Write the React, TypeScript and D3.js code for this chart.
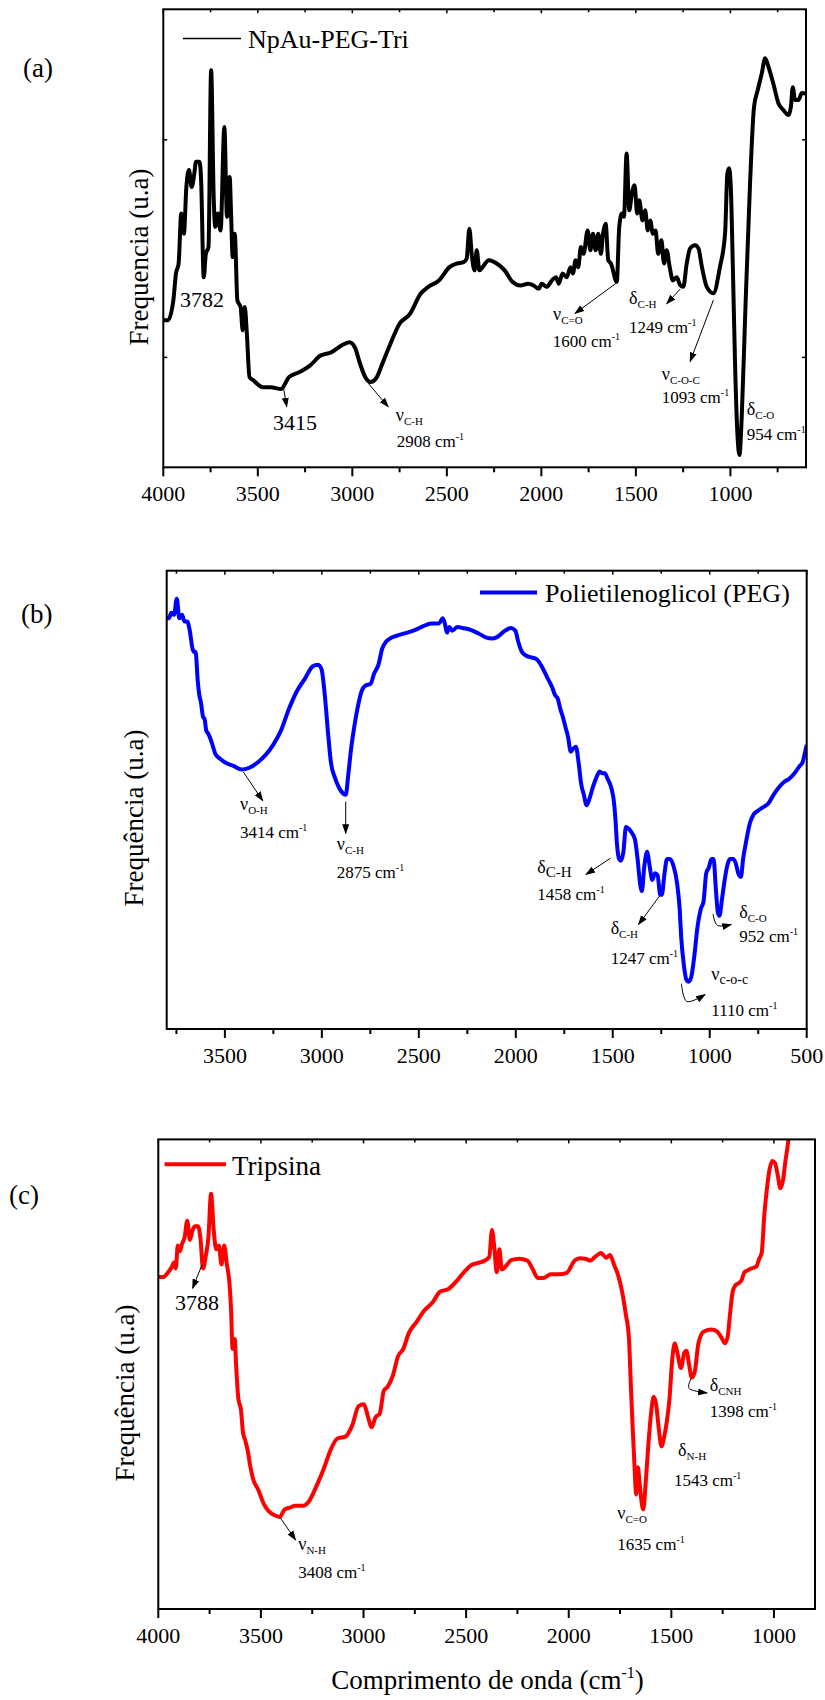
import React from 'react';
import * as d3 from 'd3';

const FONT = '"Liberation Serif", "Times New Roman", "DejaVu Serif", serif';

type Pt = [number, number];

// ---------- DATA (wavenumber cm-1, intensity u.a. 0-100) ----------
const npauSpectrum: Pt[] = [
  [4000,32.1],[3975,32.1],[3947,36.4],[3933,42.3],[3919,44.5],[3905,55.4],[3891,51.0],[3878,61.2],[3864,64.9],[3850,61.2],
  [3836,64.1],[3827,66.7],[3808,66.7],[3800,62.7],[3786,41.5],[3775,46.6],[3761,48.1],[3747,86.7],[3733,58.3],[3725,52.5],
  [3711,55.4],[3697,51.7],[3677,74.3],[3663,54.7],[3649,63.4],[3641,54.7],[3633,45.9],[3622,51.0],[3608,36.4],[3591,35.0],
  [3580,29.9],[3569,35.0],[3558,29.2],[3544,19.7],[3524,19.0],[3474,17.5],[3432,17.5],[3377,17.1],[3335,19.7],[3279,20.8],
  [3224,22.2],[3168,24.4],[3112,25.1],[3057,26.6],[3015,27.3],[2987,26.2],[2959,22.6],[2932,19.7],[2904,18.6],[2870,19.7],
  [2848,21.9],[2806,26.2],[2751,31.3],[2695,33.5],[2639,37.9],[2598,39.4],[2542,40.8],[2486,43.7],[2445,44.5],[2411,44.8],
  [2395,45.6],[2381,52.1],[2367,45.9],[2353,43.0],[2342,47.4],[2328,43.0],[2311,43.7],[2278,45.2],[2236,44.5],[2194,43.0],
  [2153,40.5],[2111,39.7],[2069,40.1],[2041,39.7],[2013,39.0],[1999,40.1],[1972,39.4],[1944,40.8],[1922,41.5],[1908,40.1],
  [1888,42.3],[1866,41.5],[1846,43.7],[1833,42.3],[1819,45.2],[1805,43.7],[1791,48.1],[1777,46.6],[1755,51.7],[1741,47.4],
  [1727,51.0],[1713,47.4],[1699,51.0],[1685,46.6],[1674,51.0],[1660,53.2],[1646,45.2],[1632,44.5],[1601,40.5],[1588,52.5],
  [1574,55.4],[1563,54.7],[1549,68.5],[1535,56.1],[1521,59.8],[1507,61.6],[1493,55.4],[1482,58.3],[1465,53.9],[1451,56.1],
  [1437,51.7],[1424,53.9],[1410,51.0],[1396,51.7],[1382,46.6],[1365,49.6],[1351,44.5],[1337,47.4],[1321,43.7],[1304,40.8],
  [1284,41.5],[1266,39.8],[1249,39.4],[1231,44.5],[1213,47.8],[1187,48.5],[1169,47.8],[1151,43.8],[1125,39.4],[1090,38.0],
  [1055,43.8],[1028,51.1],[1016,64.2],[1007,65.3],[998,61.3],[987,43.8],[975,22.0],[963,7.4],[952,2.7],[940,11.0],
  [922,32.9],[896,62.0],[875,78.7],[855,82.4],[834,86.0],[816,89.3],[799,87.5],[773,83.8],[746,79.5],[720,78.0],
  [693,76.9],[680,78.7],[670,83.0],[658,80.2],[640,80.2],[622,81.7],[600,81.6],
];

const pegSpectrum: Pt[] = [
  [3800,90.0],[3789,89.6],[3776,90.8],[3762,90.4],[3748,93.9],[3735,89.6],[3721,90.4],[3708,88.9],[3694,88.9],[3681,86.9],
  [3667,83.0],[3659,82.3],[3651,82.3],[3640,76.0],[3632,72.9],[3624,71.4],[3613,68.2],[3604,67.5],[3596,65.1],[3585,64.4],
  [3577,63.6],[3564,62.0],[3550,60.1],[3523,58.9],[3496,58.1],[3455,57.4],[3414,56.6],[3374,57.0],[3333,58.1],[3292,59.7],
  [3251,62.0],[3211,65.1],[3170,69.8],[3129,73.7],[3088,76.4],[3048,79.1],[3020,79.5],[3001,78.4],[2985,72.9],[2966,63.6],
  [2953,58.1],[2934,55.0],[2912,52.7],[2893,51.5],[2877,51.1],[2863,55.8],[2849,61.2],[2836,65.1],[2817,69.8],[2795,73.7],
  [2776,74.9],[2749,75.3],[2730,77.6],[2708,79.5],[2689,83.0],[2667,84.6],[2640,85.4],[2600,86.0],[2559,86.5],[2518,87.1],
  [2477,87.9],[2437,88.5],[2396,88.5],[2377,89.6],[2366,88.5],[2355,86.5],[2342,87.7],[2328,86.9],[2301,87.7],[2274,87.5],
  [2233,87.1],[2192,86.3],[2151,85.4],[2124,85.2],[2097,85.5],[2056,86.9],[2024,87.5],[2002,86.9],[1988,84.6],[1969,82.3],
  [1948,81.5],[1921,81.1],[1893,80.7],[1866,79.1],[1839,76.8],[1812,74.5],[1798,72.9],[1784,72.1],[1770,69.8],[1758,68.2],
  [1744,65.9],[1730,63.6],[1717,60.5],[1703,61.2],[1690,61.6],[1676,58.1],[1663,53.5],[1649,51.1],[1635,48.8],[1622,50.0],
  [1603,52.7],[1584,54.9],[1567,56.2],[1554,55.8],[1540,55.8],[1527,54.6],[1508,52.7],[1494,49.6],[1486,45.7],[1478,40.2],
  [1467,37.1],[1459,36.7],[1445,38.7],[1432,44.1],[1418,43.7],[1405,43.0],[1386,41.4],[1372,37.1],[1359,31.7],[1350,30.1],
  [1337,35.6],[1323,38.7],[1310,35.6],[1296,32.5],[1282,34.0],[1269,33.6],[1255,29.3],[1247,29.3],[1233,34.0],[1220,37.1],
  [1206,37.1],[1187,35.6],[1168,31.7],[1155,26.2],[1147,20.0],[1133,13.8],[1120,10.7],[1109,10.3],[1095,11.4],[1079,16.1],
  [1063,22.3],[1046,26.2],[1032,27.8],[1018,34.0],[1005,35.2],[991,37.1],[980,37.1],[969,30.9],[958,25.4],[950,24.7],
  [936,28.6],[923,32.5],[910,35.6],[896,37.1],[880,37.1],[867,36.3],[853,34.0],[839,33.2],[828,37.1],[812,41.0],
  [793,44.9],[774,46.8],[752,47.6],[725,48.4],[698,49.2],[671,51.1],[644,52.7],[617,53.9],[590,54.6],[563,55.8],
  [536,57.4],[522,58.1],[508,60.5],[500,62.0],
];

const tripsinaSpectrum: Pt[] = [
  [4000,70.7],[3974,70.7],[3954,71.6],[3936,72.7],[3923,73.8],[3915,72.5],[3905,77.4],[3895,76.2],[3884,77.8],[3872,79.1],
  [3859,82.7],[3846,78.6],[3833,80.7],[3820,81.5],[3807,81.5],[3795,79.1],[3782,72.5],[3769,75.1],[3756,79.1],[3743,88.4],
  [3730,80.7],[3718,76.6],[3705,77.4],[3692,73.4],[3679,77.4],[3666,73.4],[3653,69.3],[3646,64.4],[3638,55.4],[3628,57.5],
  [3620,51.3],[3610,44.8],[3597,42.4],[3587,37.5],[3576,35.9],[3563,33.4],[3551,30.2],[3538,27.7],[3512,25.3],[3486,22.4],
  [3461,20.8],[3435,20.0],[3409,19.6],[3384,21.2],[3358,21.6],[3332,22.0],[3294,22.0],[3268,22.8],[3230,26.1],[3191,30.2],
  [3165,33.4],[3127,36.3],[3088,36.7],[3055,39.1],[3024,43.2],[2998,43.6],[2980,41.2],[2960,38.7],[2942,40.8],[2921,41.6],
  [2901,46.5],[2883,47.3],[2857,49.7],[2832,53.8],[2806,55.4],[2780,58.7],[2742,61.1],[2703,63.6],[2665,65.2],[2626,67.6],
  [2588,68.1],[2549,69.7],[2511,71.7],[2472,73.3],[2433,73.8],[2408,74.2],[2387,75.0],[2374,80.7],[2362,76.6],[2351,71.7],
  [2338,76.6],[2326,72.3],[2305,73.1],[2280,74.3],[2241,74.6],[2202,74.2],[2177,72.5],[2151,70.5],[2125,70.5],[2087,71.3],
  [2048,71.3],[2010,71.6],[1971,74.2],[1946,74.7],[1920,74.6],[1894,74.2],[1869,75.1],[1843,75.8],[1817,74.8],[1799,75.4],
  [1779,73.3],[1761,71.3],[1740,67.6],[1722,62.8],[1707,57.9],[1697,47.3],[1689,39.1],[1681,31.8],[1671,24.4],[1663,30.2],
  [1655,26.9],[1645,22.8],[1637,21.2],[1625,26.9],[1612,35.0],[1599,41.6],[1586,45.2],[1573,43.2],[1561,38.3],[1548,34.6],
  [1535,36.7],[1522,39.9],[1509,44.8],[1496,53.0],[1483,56.6],[1471,54.6],[1453,51.3],[1437,54.6],[1427,55.0],[1414,52.2],
  [1401,49.3],[1386,50.5],[1368,56.6],[1342,59.1],[1304,59.5],[1278,59.1],[1257,57.9],[1239,56.6],[1226,57.9],[1214,62.8],
  [1201,67.6],[1188,68.9],[1175,69.3],[1157,70.1],[1144,71.7],[1129,72.1],[1111,72.5],[1085,73.0],[1072,74.6],[1060,75.8],
  [1047,83.9],[1034,89.6],[1021,93.7],[1008,95.4],[995,95.0],[982,92.5],[969,89.6],[956,91.3],[944,95.4],[931,99.4],[915,106],
];

const labelTicksA = [4000, 3500, 3000, 2500, 2000, 1500, 1000];
const minorTicksA = [3750, 3250, 2750, 2250, 1750, 1250, 750];
const labelTicksB = [3500, 3000, 2500, 2000, 1500, 1000, 500];
const minorTicksB = [3750, 3250, 2750, 2250, 1750, 1250, 750];
const labelTicksC = [4000, 3500, 3000, 2500, 2000, 1500, 1000];
const minorTicksC = [3750, 3250, 2750, 2250, 1750, 1250];
const yTicksA = [24, 71.5];

interface Label { at: Pt; sym?: string; sub?: string; subSize?: number; num?: string; big?: string; }
interface Arrow { pts: Pt[]; }

const labelsA: Label[] = [
  { at: [3795, 35.0], big: '3782' },
  { at: [3303, 8.1], big: '3415' },
  { at: [2770, 10.2], sym: 'ν', sub: 'C-H' },
  { at: [2765, 4.5], num: '2908' },
  { at: [1938, 32.2], sym: 'ν', sub: 'C=O' },
  { at: [1940, 26.3], num: '1600' },
  { at: [1536, 35.7], sym: 'δ', sub: 'C-H' },
  { at: [1536, 29.3], num: '1249' },
  { at: [1363, 19.1], sym: 'ν', sub: 'C-O-C' },
  { at: [1363, 14.0], num: '1093' },
  { at: [913, 11.4], sym: 'δ', sub: 'C-O' },
  { at: [913, 6.0], num: '954' },
];
const arrowsA: Arrow[] = [
  { pts: [[3365, 17.6], [3347, 13.2]] },
  { pts: [[2915, 18.3], [2810, 13.2]] },
  { pts: [[1601, 40.3], [1822, 33.6]] },
  { pts: [[1266, 38.9], [1337, 35.7]] },
  { pts: [[1090, 36.5], [1213, 23.1]] },
];

const labelsB: Label[] = [
  { at: [3422, 47.8], sym: 'ν', sub: 'O-H' },
  { at: [3422, 41.6], num: '3414' },
  { at: [2923, 39.1], sym: 'ν', sub: 'C-H' },
  { at: [2923, 32.9], num: '2875' },
  { at: [1889, 34.1], sym: 'δ', sub: 'C-H', subSize: 15 },
  { at: [1889, 28.2], num: '1458' },
  { at: [1511, 20.8], sym: 'δ', sub: 'C-H' },
  { at: [1511, 14.2], num: '1247' },
  { at: [992, 10.7], sym: 'ν', sub: 'c-o-c', subSize: 14 },
  { at: [992, 2.9], num: '1110' },
  { at: [848, 24.3], sym: 'δ', sub: 'C-O' },
  { at: [848, 18.9], num: '952' },
];
const arrowsB: Arrow[] = [
  { pts: [[3405, 56.1], [3305, 49.8]] },
  { pts: [[2877, 49.6], [2877, 42.7]] },
  { pts: [[1511, 37.3], [1638, 33.7]] },
  { pts: [[1259, 29.0], [1367, 22.8]] },
  { pts: [[1146, 9.9], [1118, 6.0], [1024, 7.5]] },
  { pts: [[983, 25.1], [960, 22.6], [889, 22.8]] },
];

const labelsC: Label[] = [
  { at: [3812, 63.7], big: '3788' },
  { at: [3318, 12.6], sym: 'ν', sub: 'N-H' },
  { at: [3318, 6.5], num: '3408' },
  { at: [1763, 19.2], sym: 'ν', sub: 'C=O' },
  { at: [1763, 12.6], num: '1635' },
  { at: [1467, 32.6], sym: 'δ', sub: 'N-H' },
  { at: [1487, 26.1], num: '1543' },
  { at: [1313, 46.5], sym: 'δ', sub: 'CNH' },
  { at: [1313, 40.8], num: '1398' },
];
const arrowsC: Arrow[] = [
  { pts: [[3787, 73.3], [3833, 68.3]] },
  { pts: [[3408, 19.6], [3331, 14.7]] },
  { pts: [[1403, 49.1], [1412, 46.9], [1326, 46.0]] },
];

// ---------- LAYOUT ----------
interface Box { x0: number; x1: number; y0: number; y1: number; }

interface PanelProps {
  id: string;
  box: Box;
  domain: [number, number];
  data: Pt[];
  color: string;
  labelTicks: number[];
  minorTicks: number[];
  yTicks: number[];
  labels: Label[];
  arrows: Arrow[];
  tag: string;
  tagPos: [number, number];
  yTitle: string;
  yTitlePos: [number, number];
  legend: { text: string; lx1: number; lx2: number; ly: number; tx: number; ty: number; lw: number; size: number };
}

function Panel(p: PanelProps) {
  const { box } = p;
  const x = d3.scaleLinear().domain(p.domain).range([box.x0, box.x1]);
  const y = d3.scaleLinear().domain([0, 100]).range([box.y1, box.y0]);
  const line = d3.line<Pt>().x(d => x(d[0])).y(d => y(d[1])).curve(d3.curveMonotoneX);
  const arrowLine = d3.line<Pt>().x(d => x(d[0])).y(d => y(d[1])).curve(d3.curveCardinal);
  const clipId = `clip-${p.id}`;
  return (
    <g>
      <defs>
        <clipPath id={clipId}>
          <rect x={box.x0} y={box.y0} width={box.x1 - box.x0} height={box.y1 - box.y0} />
        </clipPath>
      </defs>
      <path d={line(p.data) || ''} fill="none" stroke={p.color} strokeWidth={4}
        strokeLinejoin="round" clipPath={`url(#${clipId})`} />
      <rect x={box.x0} y={box.y0} width={box.x1 - box.x0} height={box.y1 - box.y0}
        fill="none" stroke="#000" strokeWidth={2} />
      {p.labelTicks.map(t => (
        <g key={`mt${t}`}>
          <line x1={x(t)} x2={x(t)} y1={box.y1} y2={box.y1 + 9} stroke="#000" strokeWidth={2} />
          <line x1={x(t)} x2={x(t)} y1={box.y0} y2={box.y0 + 4} stroke="#000" strokeWidth={1.5} />
          <text x={x(t)} y={box.y1 + 34} textAnchor="middle" fontSize={22} style={{ fontFamily: FONT }}>{t}</text>
        </g>
      ))}
      {p.minorTicks.map(t => (
        <g key={`nt${t}`}>
          <line x1={x(t)} x2={x(t)} y1={box.y1} y2={box.y1 + 5} stroke="#000" strokeWidth={2} />
          <line x1={x(t)} x2={x(t)} y1={box.y0} y2={box.y0 + 3} stroke="#000" strokeWidth={1.5} />
        </g>
      ))}
      {p.yTicks.map(t => (
        <g key={`yt${t}`}>
          <line x1={box.x0} x2={box.x0 + 4} y1={y(t)} y2={y(t)} stroke="#000" strokeWidth={1.5} />
          <line x1={box.x1 - 4} x2={box.x1} y1={y(t)} y2={y(t)} stroke="#000" strokeWidth={1.5} />
        </g>
      ))}
      {p.arrows.map((a, i) => (
        <path key={`ar${i}`} d={(a.pts.length > 2 ? arrowLine(a.pts) : d3.line()(a.pts.map(q => [x(q[0]), y(q[1])] as [number, number]))) || ''}
          fill="none" stroke="#000" strokeWidth={1} markerEnd="url(#arrowHead)" />
      ))}
      {p.labels.map((l, i) => {
        const px = x(l.at[0]);
        const py = y(l.at[1]);
        if (l.big) {
          return <text key={`lb${i}`} x={px} y={py} textAnchor="middle" fontSize={22} style={{ fontFamily: FONT }}>{l.big}</text>;
        }
        if (l.sym) {
          return (
            <text key={`lb${i}`} x={px} y={py} fontSize={18} style={{ fontFamily: FONT }}>
              {l.sym}<tspan fontSize={l.subSize || 11} dy={4}>{l.sub}</tspan>
            </text>
          );
        }
        return (
          <text key={`lb${i}`} x={px} y={py} fontSize={17} style={{ fontFamily: FONT }}>
            {l.num} cm<tspan fontSize={10} dy={-7}>-1</tspan>
          </text>
        );
      })}
      <line x1={p.legend.lx1} x2={p.legend.lx2} y1={p.legend.ly} y2={p.legend.ly}
        stroke={p.color} strokeWidth={p.legend.lw} />
      <text x={p.legend.tx} y={p.legend.ty} fontSize={p.legend.size} style={{ fontFamily: FONT }}>{p.legend.text}</text>
      <text x={p.tagPos[0]} y={p.tagPos[1]} fontSize={27} style={{ fontFamily: FONT }}>{p.tag}</text>
      <text transform={`translate(${p.yTitlePos[0]},${p.yTitlePos[1]}) rotate(-90)`} textAnchor="middle"
        fontSize={27} style={{ fontFamily: FONT }}>{p.yTitle}</text>
    </g>
  );
}

export default function App() {
  return (
    <svg width={825} height={1700} viewBox="0 0 825 1700"
      style={{ position: 'absolute', left: 0, top: 0, background: '#fff', fontFamily: FONT }}>
      <defs>
        <marker id="arrowHead" viewBox="0 0 10 10" refX={9} refY={5} markerWidth={10} markerHeight={10}
          markerUnits="userSpaceOnUse" orient="auto">
          <path d="M0,1.5 L10,5 L0,8.5 z" fill="#000" />
        </marker>
      </defs>
      <rect x={0} y={0} width={825} height={1700} fill="#fff" />
      <Panel id="a" box={{ x0: 163.3, x1: 806, y0: 9.3, y1: 467.3 }} domain={[4000, 600]}
        data={npauSpectrum} color="#000000" labelTicks={labelTicksA} minorTicks={minorTicksA} yTicks={yTicksA}
        labels={labelsA} arrows={arrowsA} tag="(a)" tagPos={[23, 77]}
        yTitle="Frequencia (u.a)" yTitlePos={[148, 257]}
        legend={{ text: 'NpAu-PEG-Tri', lx1: 183, lx2: 241, ly: 38.5, tx: 248, ty: 47.5, lw: 1.5, size: 26 }} />
      <Panel id="b" box={{ x0: 166.7, x1: 806.7, y0: 570.7, y1: 1029 }} domain={[3800, 500]}
        data={pegSpectrum} color="#0000FF" labelTicks={labelTicksB} minorTicks={minorTicksB} yTicks={[]}
        labels={labelsB} arrows={arrowsB} tag="(b)" tagPos={[21, 623]}
        yTitle="Frequência (u.a)" yTitlePos={[143, 818]}
        legend={{ text: 'Polietilenoglicol (PEG)', lx1: 480, lx2: 537, ly: 592.5, tx: 545, ty: 602, lw: 4, size: 26 }} />
      <Panel id="c" box={{ x0: 158.3, x1: 815, y0: 1139.4, y1: 1609 }} domain={[4000, 800]}
        data={tripsinaSpectrum} color="#FF0000" labelTicks={labelTicksC} minorTicks={minorTicksC} yTicks={[]}
        labels={labelsC} arrows={arrowsC} tag="(c)" tagPos={[9, 1204]}
        yTitle="Frequência (u.a)" yTitlePos={[134, 1393]}
        legend={{ text: 'Tripsina', lx1: 164.6, lx2: 226, ly: 1164.3, tx: 232, ty: 1174.6, lw: 4, size: 27 }} />
      <text x={487.5} y={1689} textAnchor="middle" fontSize={27} style={{ fontFamily: FONT }}>
        Comprimento de onda (cm<tspan fontSize={16} dy={-11}>-1</tspan><tspan dy={11}>)</tspan>
      </text>
    </svg>
  );
}
